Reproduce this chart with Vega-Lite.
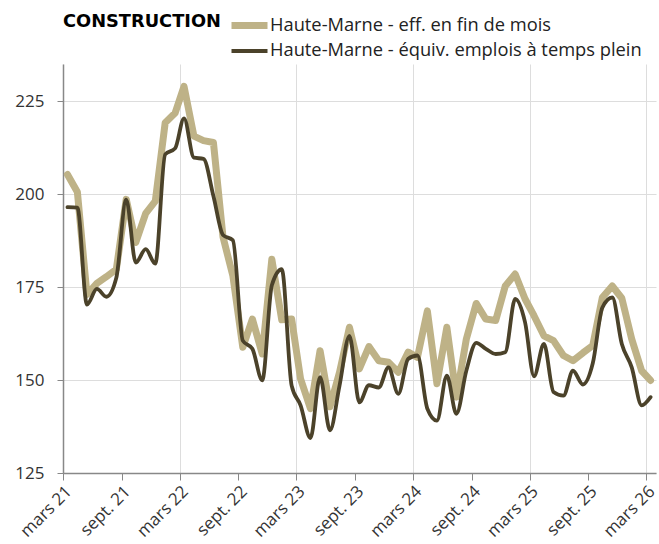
{
  "$schema": "https://vega.github.io/schema/vega-lite/v6.json",
  "width": 593,
  "height": 409,
  "autosize": {"type": "none"},
  "padding": {"left": 63, "top": 64, "right": 3, "bottom": 71},
  "background": "white",
  "data": {
    "values": [
      {"date": "2021-03-15", "eff": 205.3, "etp": 196.5},
      {"date": "2021-04-15", "eff": 200.6, "etp": 196.4},
      {"date": "2021-05-15", "eff": 173.0, "etp": 170.3},
      {"date": "2021-06-15", "eff": 176.0, "etp": 174.5},
      {"date": "2021-07-15", "eff": 177.8, "etp": 172.4},
      {"date": "2021-08-15", "eff": 179.8, "etp": 177.5},
      {"date": "2021-09-15", "eff": 198.6, "etp": 198.5},
      {"date": "2021-10-15", "eff": 187.0, "etp": 181.6},
      {"date": "2021-11-15", "eff": 194.8, "etp": 185.2},
      {"date": "2021-12-15", "eff": 198.1, "etp": 181.3},
      {"date": "2022-01-15", "eff": 219.2, "etp": 210.7},
      {"date": "2022-02-15", "eff": 221.8, "etp": 212.3},
      {"date": "2022-03-15", "eff": 229.0, "etp": 220.4},
      {"date": "2022-04-15", "eff": 215.6, "etp": 209.8},
      {"date": "2022-05-15", "eff": 214.4, "etp": 209.5},
      {"date": "2022-06-15", "eff": 213.9, "etp": 199.5},
      {"date": "2022-07-15", "eff": 188.5, "etp": 189.0},
      {"date": "2022-08-15", "eff": 178.0, "etp": 187.6},
      {"date": "2022-09-15", "eff": 158.8, "etp": 160.6},
      {"date": "2022-10-15", "eff": 166.4, "etp": 158.4},
      {"date": "2022-11-15", "eff": 157.0, "etp": 149.9},
      {"date": "2022-12-15", "eff": 182.5, "etp": 175.5},
      {"date": "2023-01-15", "eff": 166.2, "etp": 179.8},
      {"date": "2023-02-15", "eff": 166.4, "etp": 148.5},
      {"date": "2023-03-15", "eff": 150.3, "etp": 143.2},
      {"date": "2023-04-15", "eff": 142.3, "etp": 134.4},
      {"date": "2023-05-15", "eff": 157.9, "etp": 150.8},
      {"date": "2023-06-15", "eff": 142.8, "etp": 136.5},
      {"date": "2023-07-15", "eff": 152.1, "etp": 148.5},
      {"date": "2023-08-15", "eff": 164.2, "etp": 161.9},
      {"date": "2023-09-15", "eff": 153.0, "etp": 144.0},
      {"date": "2023-10-15", "eff": 159.0, "etp": 148.6},
      {"date": "2023-11-15", "eff": 155.2, "etp": 148.0},
      {"date": "2023-12-15", "eff": 154.8, "etp": 153.4},
      {"date": "2024-01-15", "eff": 152.1, "etp": 146.3},
      {"date": "2024-02-15", "eff": 157.5, "etp": 155.7},
      {"date": "2024-03-15", "eff": 156.1, "etp": 156.6},
      {"date": "2024-04-15", "eff": 168.6, "etp": 142.3},
      {"date": "2024-05-15", "eff": 149.0, "etp": 139.1},
      {"date": "2024-06-15", "eff": 164.2, "etp": 151.2},
      {"date": "2024-07-15", "eff": 145.4, "etp": 140.9},
      {"date": "2024-08-15", "eff": 161.0, "etp": 152.5},
      {"date": "2024-09-15", "eff": 170.6, "etp": 160.0},
      {"date": "2024-10-15", "eff": 166.4, "etp": 158.4},
      {"date": "2024-11-15", "eff": 166.0, "etp": 157.0},
      {"date": "2024-12-15", "eff": 175.3, "etp": 157.5},
      {"date": "2025-01-15", "eff": 178.5, "etp": 171.8},
      {"date": "2025-02-15", "eff": 171.8, "etp": 165.5},
      {"date": "2025-03-15", "eff": 167.3, "etp": 151.0},
      {"date": "2025-04-15", "eff": 161.9, "etp": 159.7},
      {"date": "2025-05-15", "eff": 160.6, "etp": 146.8},
      {"date": "2025-06-15", "eff": 156.6, "etp": 145.8},
      {"date": "2025-07-15", "eff": 155.2, "etp": 152.5},
      {"date": "2025-08-15", "eff": 157.3, "etp": 148.8},
      {"date": "2025-09-15", "eff": 159.3, "etp": 154.5},
      {"date": "2025-10-15", "eff": 172.2, "etp": 169.5},
      {"date": "2025-11-15", "eff": 175.3, "etp": 172.2},
      {"date": "2025-12-15", "eff": 172.0, "etp": 159.7},
      {"date": "2026-01-15", "eff": 161.0, "etp": 153.4},
      {"date": "2026-02-15", "eff": 152.5, "etp": 143.2},
      {"date": "2026-03-15", "eff": 149.9, "etp": 145.4}
    ]
  },
  "transform": [
    {"fold": ["eff", "etp"], "as": ["key", "value"]},
    {"lookup": "key", "from": {"data": {"values": [
      {"key": "eff", "series": "Haute-Marne - eff. en fin de mois"},
      {"key": "etp", "series": "Haute-Marne - équiv. emplois à temps plein"}
    ]}, "key": "key", "fields": ["series"]}}
  ],
  "encoding": {
    "x": {
      "field": "date",
      "type": "temporal",
      "scale": {
        "type": "utc",
        "domain": [
          {"year": 2021, "month": 3, "date": 1, "utc": true},
          {"year": 2026, "month": 4, "date": 1, "utc": true}
        ]
      },
      "axis": {
        "title": null,
        "values": [
          {"year": 2021, "month": 3, "date": 1, "utc": true},
          {"year": 2021, "month": 9, "date": 1, "utc": true},
          {"year": 2022, "month": 3, "date": 1, "utc": true},
          {"year": 2022, "month": 9, "date": 1, "utc": true},
          {"year": 2023, "month": 3, "date": 1, "utc": true},
          {"year": 2023, "month": 9, "date": 1, "utc": true},
          {"year": 2024, "month": 3, "date": 1, "utc": true},
          {"year": 2024, "month": 9, "date": 1, "utc": true},
          {"year": 2025, "month": 3, "date": 1, "utc": true},
          {"year": 2025, "month": 9, "date": 1, "utc": true},
          {"year": 2026, "month": 3, "date": 1, "utc": true}
        ],
        "labelExpr": "(utcmonth(datum.value) == 2 ? 'mars ' : 'sept. ') + utcFormat(datum.value, '%y')",
        "labelAngle": -45,
        "labelFont": "Open Sans",
        "labelFontSize": 17,
        "labelColor": "#333333",
        "labelPadding": 3,
        "labelOverlap": false,
        "labelBound": false,
        "tickSize": 7,
        "tickColor": "#888888",
        "domainColor": "#888888",
        "grid": true,
        "gridColor": "#dddddd",
        "gridOpacity": {"condition": {"test": "utcmonth(datum.value) == 2", "value": 1}, "value": 0}
      }
    },
    "y": {
      "field": "value",
      "type": "quantitative",
      "scale": {"domain": [125, 235], "nice": false, "zero": false},
      "axis": {
        "title": null,
        "values": [125, 150, 175, 200, 225],
        "labelFont": "Open Sans",
        "labelFontSize": 17,
        "labelColor": "#333333",
        "labelPadding": 13,
        "tickSize": 6,
        "tickColor": "#888888",
        "domainColor": "#888888",
        "gridColor": "#dddddd"
      }
    },
    "color": {
      "field": "series",
      "type": "nominal",
      "scale": {
        "domain": ["Haute-Marne - eff. en fin de mois", "Haute-Marne - équiv. emplois à temps plein"],
        "range": ["#beb287", "#4b422a"]
      },
      "legend": {
        "title": "CONSTRUCTION",
        "titleOrient": "left",
        "titleFont": "DejaVu Sans",
        "titleFontWeight": "bold",
        "titleFontSize": 17.8,
        "titleColor": "#000000",
        "titlePadding": 16,
        "titleAnchor": "start",
        "titleBaseline": "top",
        "orient": "none",
        "legendX": 0,
        "legendY": -51,
        "direction": "vertical",
        "symbolType": "M-2,0H2",
        "symbolSize": 324,
        "labelFont": "Open Sans",
        "labelFontSize": 18.3,
        "labelLimit": 0,
        "labelColor": "#222222",
        "labelOffset": 8,
        "rowPadding": -3
      }
    },
    "strokeWidth": {
      "field": "series",
      "type": "nominal",
      "scale": {
        "domain": ["Haute-Marne - eff. en fin de mois", "Haute-Marne - équiv. emplois à temps plein"],
        "range": [7, 3.8]
      },
      "legend": {
        "title": "CONSTRUCTION",
        "titleOrient": "left",
        "titleFont": "DejaVu Sans",
        "titleFontWeight": "bold",
        "titleFontSize": 17.8,
        "titleColor": "#000000",
        "titlePadding": 16,
        "titleAnchor": "start",
        "titleBaseline": "top",
        "orient": "none",
        "legendX": 0,
        "legendY": -51,
        "direction": "vertical",
        "symbolType": "M-2,0H2",
        "symbolSize": 324,
        "labelFont": "Open Sans",
        "labelFontSize": 18.3,
        "labelLimit": 0,
        "labelColor": "#222222",
        "labelOffset": 8,
        "rowPadding": -3
      }
    }
  },
  "layer": [
    {
      "transform": [{"filter": "datum.key == 'eff'"}],
      "mark": {"type": "line", "interpolate": "linear", "strokeJoin": "round", "strokeCap": "round"}
    },
    {
      "transform": [{"filter": "datum.key == 'etp'"}],
      "mark": {"type": "line", "interpolate": "monotone", "strokeJoin": "round", "strokeCap": "round"}
    }
  ],
  "config": {
    "view": {"stroke": null},
    "axis": {"domainWidth": 1.5}
  }
}
